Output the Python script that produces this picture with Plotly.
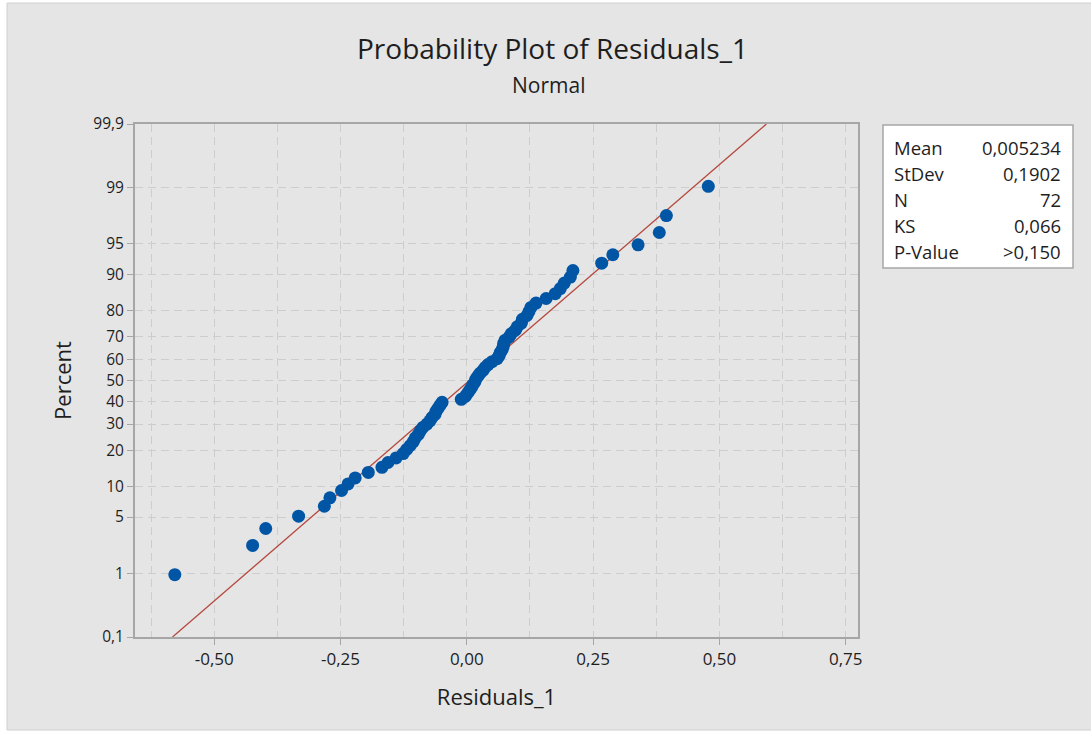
import plotly.graph_objects as go
from statistics import NormalDist

# ---------------- data ----------------
residuals = [
    -0.578, -0.424, -0.398, -0.333, -0.282, -0.271, -0.248, -0.235, -0.221, -0.195,
    -0.168, -0.156, -0.140, -0.126, -0.119, -0.112, -0.106, -0.102, -0.096, -0.092,
    -0.087, -0.079, -0.073, -0.069, -0.063, -0.061, -0.057, -0.053, -0.049, -0.011,
    -0.003, 0.001, 0.005, 0.009, 0.012, 0.016, 0.018, 0.022, 0.026, 0.032,
    0.036, 0.042, 0.050, 0.060, 0.064, 0.066, 0.070, 0.072, 0.073, 0.076,
    0.084, 0.088, 0.096, 0.100, 0.108, 0.110, 0.119, 0.123, 0.127, 0.137,
    0.157, 0.175, 0.185, 0.193, 0.205, 0.210, 0.267, 0.289, 0.339, 0.381,
    0.395, 0.478,
]
percent_ticks = [0.1, 1, 5, 10, 20, 30, 40, 50, 60, 70, 80, 90, 95, 99, 99.9]
percent_labels = ["0,1", "1", "5", "10", "20", "30", "40", "50", "60", "70", "80", "90", "95", "99", "99,9"]
x_ticks = [-0.5, -0.25, 0.0, 0.25, 0.5, 0.75]
x_labels = ["-0,50", "-0,25", "0,00", "0,25", "0,50", "0,75"]
stat_names = ["Mean", "StDev", "N", "KS", "P-Value"]
stat_values = ["0,005234", "0,1902", "72", "0,066", ">0,150"]
fit_mean = 0.005234
fit_sd = 0.1902

title = "Probability Plot of Residuals_1"
subtitle = "Normal"
x_title = "Residuals_1"
y_title = "Percent"

# ---------------- computations ----------------
nd = NormalDist()
n = len(residuals)
xs = sorted(residuals)
z_pts = [nd.inv_cdf((i - 0.3) / (n + 0.4)) for i in range(1, n + 1)]
z_lo = nd.inv_cdf(0.001)
z_hi = nd.inv_cdf(0.999)
z_ticks = [nd.inv_cdf(p / 100.0) for p in percent_ticks]

W, H = 1091, 731
ML, MR, MT, MB = 135, 233, 124, 94
PW, PH = W - ML - MR, H - MT - MB


def px(xpix):
    return (xpix - ML) / PW


def py(ypix):
    return (H - MB - ypix) / PH


FONT = "Open Sans"
TXT = "#1e1e1e"
GRID = "#cdcdcd"
AX = "#a6a6a6"

fig = go.Figure()

fig.add_trace(go.Scatter(
    x=[fit_mean + fit_sd * z_lo, fit_mean + fit_sd * z_hi],
    y=[z_lo, z_hi],
    mode="lines",
    line=dict(color="#b5493f", width=1.3),
    hoverinfo="skip",
    showlegend=False,
))
fig.add_trace(go.Scatter(
    x=xs, y=z_pts,
    mode="markers",
    marker=dict(color="#0055a5", size=13, line=dict(width=0)),
    showlegend=False,
))

fig.update_xaxes(
    range=[-0.6568, 0.7743],
    tickvals=x_ticks, ticktext=x_labels,
    ticks="outside", ticklen=6, tickcolor=AX, tickwidth=1,
    showline=True, mirror=True, linecolor=AX, linewidth=2,
    showgrid=True, gridcolor=GRID, gridwidth=1, griddash="8px,5px",
    minor=dict(dtick=0.125, tick0=0, showgrid=True, gridcolor=GRID, gridwidth=1,
               griddash="8px,5px", ticks=""),
    zeroline=False,
    tickfont=dict(family=FONT, size=17, color=TXT),
    title=dict(text=x_title, font=dict(family=FONT, size=22, color=TXT), standoff=20),
)
fig.update_yaxes(
    range=[z_lo, z_hi],
    tickvals=z_ticks, ticktext=percent_labels,
    ticks="outside", ticklen=6, tickcolor=AX, tickwidth=1,
    showline=True, mirror=True, linecolor=AX, linewidth=2,
    showgrid=True, gridcolor=GRID, gridwidth=1, griddash="8px,5px",
    zeroline=False,
    tickfont=dict(family=FONT, size=15.5, color=TXT),
    title=dict(text=y_title, font=dict(family=FONT, size=22, color=TXT), standoff=16),
)

shapes = [
    # grey graph region
    dict(type="rect", xref="paper", yref="paper",
         x0=px(7), x1=px(W + 5), y0=py(730), y1=py(3),
         fillcolor="#e5e5e5", line=dict(color="#cfcfcf", width=1), layer="below"),
    # statistics box
    dict(type="rect", xref="paper", yref="paper",
         x0=px(883), x1=px(1073), y0=py(268), y1=py(125),
         fillcolor="white", line=dict(color=AX, width=1.5), layer="above"),
]

annotations = [
    dict(text=title, x=px(552), y=py(48), xref="paper", yref="paper",
         xanchor="center", yanchor="middle", showarrow=False,
         font=dict(family=FONT, size=28, color=TXT)),
    dict(text=subtitle, x=px(548), y=py(85), xref="paper", yref="paper",
         xanchor="center", yanchor="middle", showarrow=False,
         font=dict(family=FONT, size=21, color=TXT)),
]
row_y = [147, 173, 199, 225, 251]
for name, val, ry in zip(stat_names, stat_values, row_y):
    annotations.append(dict(text=name, x=px(892), y=py(ry), xref="paper", yref="paper",
                            xanchor="left", yanchor="middle", showarrow=False,
                            font=dict(family=FONT, size=18.5, color=TXT)))
    annotations.append(dict(text=val, x=px(1063), y=py(ry), xref="paper", yref="paper",
                            xanchor="right", yanchor="middle", showarrow=False,
                            font=dict(family=FONT, size=18.5, color=TXT)))

fig.update_layout(
    width=W, height=H,
    margin=dict(l=ML, r=MR, t=MT, b=MB, pad=0),
    paper_bgcolor="white",
    plot_bgcolor="white",
    shapes=shapes,
    annotations=annotations,
    showlegend=False,
    font=dict(family=FONT, color=TXT),
)

fig.write_html(
    "out.html",
    config={"displayModeBar": False},
    post_script="document.body.style.margin='0';document.body.style.overflow='hidden';",
)
